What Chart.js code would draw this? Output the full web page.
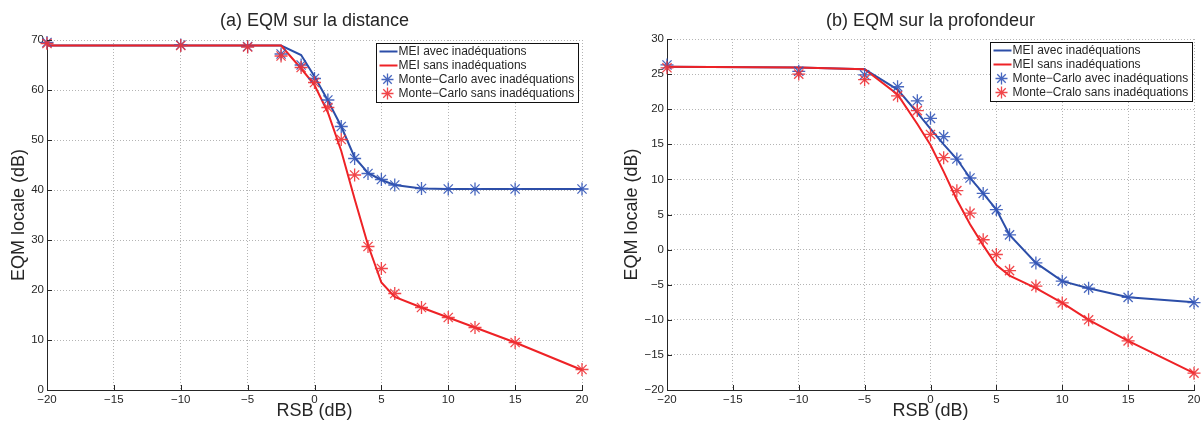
<!DOCTYPE html>
<html>
<head>
<meta charset="utf-8">
<script src="https://cdn.jsdelivr.net/npm/chart.js@4.4.0/dist/chart.umd.min.js"></script>
<style>
  html, body { margin: 0; padding: 0; background: #fff; }
  #wrap { position: relative; width: 1203px; height: 423px; }
  #distChart { position: absolute; left: 0; top: 0; width: 600px; height: 423px; }
  #depthChart { position: absolute; left: 600px; top: 0; width: 603px; height: 423px; }
</style>
</head>
<body>
<div id="wrap">
  <canvas id="distChart" width="600" height="423"></canvas>
  <canvas id="depthChart" width="603" height="423"></canvas>
</div>
<script>
// RSB (dB) - abscisses communes aux deux figures
const snr = [-20, -10, -5, -2.5, -1, 0, 1, 2, 3, 4, 5, 6, 8, 10, 12, 15, 20];
const xTickVals = [-20, -15, -10, -5, 0, 5, 10, 15, 20];

// (a) EQM sur la distance
const distTickVals = [0, 10, 20, 30, 40, 50, 60, 70];
const distMeiAvec = [68.9, 68.9, 68.9, 68.9, 67.0, 62.7, 57.9, 52.7, 46.5, 43.4, 42.0, 41.0, 40.3, 40.2, 40.2, 40.2, 40.2];
const distMeiSans = [68.9, 68.9, 68.9, 68.9, 64.3, 61.0, 55.5, 47.8, 38.2, 29.0, 21.5, 18.6, 16.5, 14.5, 12.5, 9.5, 4.0];
const distMcAvec  = [69.5, 69.0, 68.7, 67.2, 65.0, 62.3, 58.0, 52.7, 46.3, 43.3, 42.1, 41.0, 40.3, 40.2, 40.2, 40.2, 40.2];
const distMcSans  = [69.3, 68.9, 68.6, 66.8, 64.5, 61.5, 56.5, 50.1, 43.0, 28.7, 24.3, 19.3, 16.5, 14.5, 12.5, 9.5, 4.1];

// (b) EQM sur la profondeur
const depthTickVals = [-20, -15, -10, -5, 0, 5, 10, 15, 20, 25, 30];
const depthMeiAvec = [26.05, 25.95, 25.7, 22.8, 19.5, 17.2, 15.0, 12.9, 10.2, 8.0, 5.7, 2.1, -1.9, -4.5, -5.5, -6.8, -7.5];
const depthMeiSans = [26.05, 25.95, 25.7, 22.1, 17.9, 14.9, 11.1, 7.1, 3.6, 0.6, -2.2, -3.7, -5.5, -7.6, -10.0, -13.0, -17.6];
const depthMcAvec  = [26.3, 25.4, 24.9, 23.2, 21.2, 18.7, 16.1, 12.9, 10.2, 8.0, 5.7, 2.1, -1.9, -4.5, -5.5, -6.8, -7.55];
const depthMcSans  = [25.9, 25.0, 24.2, 21.9, 19.8, 16.4, 13.1, 8.4, 5.2, 1.4, -0.7, -3.0, -5.2, -7.6, -10.0, -13.0, -17.6];

const FONT = "'Liberation Sans', Arial, Helvetica, sans-serif";
const TXT = '#262626';
const BLUE = '#2c4ea8';
const RED = '#ee2226';
const BLUE_PT = 'rgba(52, 86, 184, 0.9)';
const RED_PT = 'rgba(240, 50, 54, 0.9)';

function fmt(v) {
    return v < 0 ? '\u2212' + Math.abs(v) : String(v);
}

function toXY(ys) {
    return snr.map((x, i) => ({ x: x, y: ys[i] }));
}

// petits traits de graduation vers l'intérieur (style MATLAB)
const inwardTicks = {
    id: 'inwardTicks',
    afterDatasetsDraw(chart) {
        const { ctx, chartArea: a, scales: { x, y } } = chart;
        ctx.save();
        ctx.strokeStyle = TXT;
        ctx.lineWidth = 1;
        ctx.beginPath();
        x.ticks.forEach(t => {
            const px = Math.round(x.getPixelForValue(t.value)) + 0.5;
            ctx.moveTo(px, a.bottom);
            ctx.lineTo(px, a.bottom - 5);
        });
        y.ticks.forEach(t => {
            const py = Math.round(y.getPixelForValue(t.value)) + 0.5;
            ctx.moveTo(a.left, py);
            ctx.lineTo(a.left + 5, py);
        });
        ctx.stroke();
        ctx.restore();
    }
};

function drawStar(ctx, cx, cy, r, color) {
    const d = r * Math.SQRT1_2;
    ctx.save();
    ctx.strokeStyle = color;
    ctx.lineWidth = 1.3;
    ctx.beginPath();
    ctx.moveTo(cx - r, cy); ctx.lineTo(cx + r, cy);
    ctx.moveTo(cx, cy - r); ctx.lineTo(cx, cy + r);
    ctx.moveTo(cx - d, cy - d); ctx.lineTo(cx + d, cy + d);
    ctx.moveTo(cx - d, cy + d); ctx.lineTo(cx + d, cy - d);
    ctx.stroke();
    ctx.restore();
}

// légende encadrée dans le coin haut-droit de la zone de tracé
const boxLegend = {
    id: 'boxLegend',
    afterDraw(chart, args, opts) {
        const { ctx, chartArea: a } = chart;
        const sets = chart.data.datasets;
        ctx.save();
        ctx.font = '12px ' + FONT;
        const textW = Math.max(...sets.map(d => ctx.measureText(d.label).width));
        const w = Math.round(textW + 26);
        const h = 59;
        const left = Math.round(a.right - opts.right - w) + 0.5;
        const top = Math.round(a.top + opts.top) + 0.5;
        ctx.fillStyle = '#fff';
        ctx.fillRect(left, top, w, h);
        ctx.strokeStyle = '#111';
        ctx.lineWidth = 1;
        ctx.strokeRect(left, top, w, h);
        sets.forEach((d, i) => {
            const cy = top + 8 + i * 14;
            if (d.showLine) {
                ctx.strokeStyle = d.borderColor;
                ctx.lineWidth = 2;
                ctx.beginPath();
                ctx.moveTo(left + 3, cy);
                ctx.lineTo(left + 21, cy);
                ctx.stroke();
            } else {
                drawStar(ctx, left + 11, cy, 6, d.pointBorderColor);
            }
            ctx.fillStyle = TXT;
            ctx.textBaseline = 'middle';
            ctx.textAlign = 'left';
            ctx.fillText(d.label, left + 22, cy + 0.5);
        });
        ctx.restore();
    }
};

function lineSet(label, ys, color, order) {
    return {
        label: label, data: toXY(ys), showLine: true, borderColor: color,
        borderWidth: 2, pointRadius: 0, tension: 0, order: order, clip: false
    };
}

function starSet(label, ys, color, order) {
    return {
        label: label, data: toXY(ys), showLine: false, pointStyle: 'star',
        pointRadius: 6.5, pointBorderColor: color, pointBorderWidth: 1.3,
        borderColor: color, order: order, clip: false
    };
}

function makeChart(id, cfg) {
    return new Chart(document.getElementById(id), {
        type: 'scatter',
        data: {
            datasets: [
                lineSet('MEI avec inadéquations', cfg.meiAvec, BLUE, 4),
                lineSet('MEI sans inadéquations', cfg.meiSans, RED, 3),
                starSet('Monte\u2212Carlo avec inadéquations', cfg.mcAvec, BLUE_PT, 2),
                starSet(cfg.mcSansLabel, cfg.mcSans, RED_PT, 1)
            ]
        },
        options: {
            responsive: false,
            animation: false,
            layout: { padding: { left: cfg.padLeft, right: cfg.padRight, top: 0, bottom: 0 } },
            scales: {
                x: {
                    type: 'linear', min: -20, max: 20,
                    afterBuildTicks: s => { s.ticks = xTickVals.map(v => ({ value: v })); },
                    afterFit: s => { s.height = 33; s.paddingLeft = 0; s.paddingRight = 0; },
                    grid: { color: '#b4b4b4', drawTicks: false },
                    border: { color: TXT, width: 1, dash: [1, 2] },
                    ticks: { color: TXT, padding: 3, font: { family: FONT, size: 11.5 }, callback: v => fmt(v) },
                    title: { display: true, text: 'RSB (dB)', color: TXT, font: { family: FONT, size: 18 }, padding: { top: 0, bottom: 1 } }
                },
                y: {
                    type: 'linear', min: cfg.yMin, max: cfg.yMax,
                    afterBuildTicks: s => { s.ticks = cfg.yTicks.map(v => ({ value: v })); },
                    afterFit: s => { s.width = cfg.yWidth; s.paddingTop = 0; s.paddingBottom = 0; },
                    grid: { color: '#b4b4b4', drawTicks: false },
                    border: { color: TXT, width: 1, dash: [1, 2] },
                    ticks: { color: TXT, padding: 3, font: { family: FONT, size: 11.5 }, callback: v => fmt(v) },
                    title: { display: true, text: 'EQM locale (dB)', color: TXT, font: { family: FONT, size: 18 }, padding: { top: 8, bottom: 0 } }
                }
            },
            plugins: {
                legend: { display: false },
                tooltip: { enabled: false },
                title: {
                    display: true, text: cfg.title, color: TXT, fullSize: false,
                    font: { family: FONT, size: 18, weight: 'normal' },
                    padding: { top: 10, bottom: cfg.titleBottom }
                },
                boxLegend: { right: cfg.legRight, top: 3 }
            }
        },
        plugins: [inwardTicks, boxLegend]
    });
}

makeChart('distChart', {
    title: '(a) EQM sur la distance',
    meiAvec: distMeiAvec, meiSans: distMeiSans, mcAvec: distMcAvec, mcSans: distMcSans,
    mcSansLabel: 'Monte\u2212Carlo sans inadéquations',
    yMin: 0, yMax: 70, yTicks: distTickVals,
    padLeft: 0, padRight: 18, yWidth: 47, titleBottom: 8.4, legRight: 4
});

makeChart('depthChart', {
    title: '(b) EQM sur la profondeur',
    meiAvec: depthMeiAvec, meiSans: depthMeiSans, mcAvec: depthMcAvec, mcSans: depthMcSans,
    mcSansLabel: 'Monte\u2212Cralo sans inadéquations',
    yMin: -20, yMax: 30, yTicks: depthTickVals,
    padLeft: 13, padRight: 9, yWidth: 54, titleBottom: 7.4, legRight: 2
});
</script>
</body>
</html>
